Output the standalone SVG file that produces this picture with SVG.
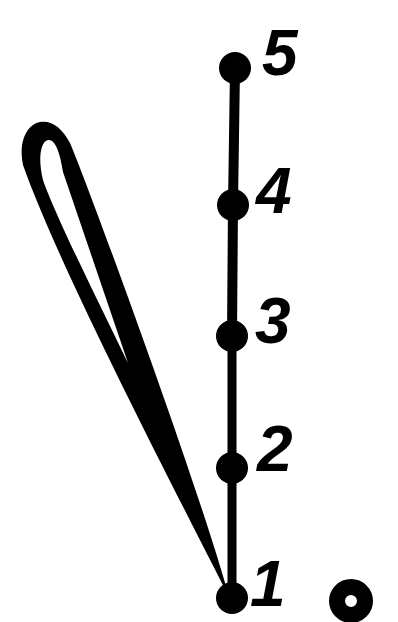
<svg xmlns="http://www.w3.org/2000/svg" width="398" height="622" viewBox="0 0 398 622">
<style>
.dot{fill:#000}
.lbl{font-family:"Liberation Sans","DejaVu Sans",sans-serif;font-weight:bold;font-style:italic;font-size:64px;fill:#000}
.edge{stroke:#000;stroke-width:10;stroke-linecap:round;fill:none}
</style>
<rect width="398" height="622" fill="#fff"/>
<g id="connectors">
<line class="edge" x1="235" y1="68" x2="233" y2="205"/>
<line class="edge" x1="233" y1="205" x2="232" y2="336"/>
<line class="edge" x1="232" y1="336" x2="232" y2="468" style="stroke-width:9"/>
<line class="edge" x1="232" y1="468" x2="232" y2="598" style="stroke-width:9"/>
<path id="loop" fill="#000" fill-rule="evenodd" d="M229,597 C180,500 60,270 23,165 C18,140 28,124 40,122 C52,120 62,128 70,143 C90,190 200,490 229,597 Z M128,363 C100,305 55,215 43,180 C38,160 40,142 48,140 C55,139 60,152 63,172 L128,363 Z"/>
</g>
<g id="node5"><circle class="dot" cx="235" cy="68" r="16"/><text class="lbl" x="262" y="75">5</text></g>
<g id="node4"><circle class="dot" cx="233" cy="205" r="16"/><text class="lbl" x="256" y="213">4</text></g>
<g id="node3"><circle class="dot" cx="232" cy="336" r="16"/><text class="lbl" x="255" y="343">3</text></g>
<g id="node2"><circle class="dot" cx="232" cy="468" r="16"/><text class="lbl" x="257" y="471">2</text></g>
<g id="node1"><circle class="dot" cx="232" cy="598" r="16"/><text class="lbl" x="250" y="606">1</text></g>
<g id="ring"><circle cx="351" cy="601" r="14" fill="none" stroke="#000" stroke-width="16"/></g>
</svg>
